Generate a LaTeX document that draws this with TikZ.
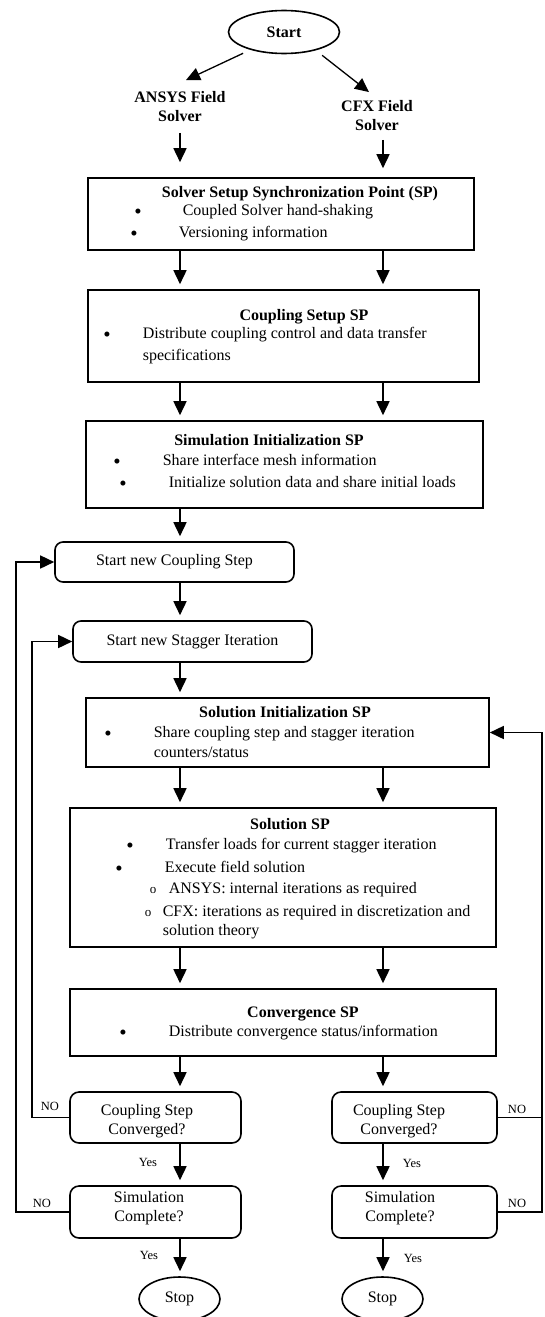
\documentclass[tikz,border=0pt]{standalone}
\usepackage{fontspec}
\setmainfont{Liberation Serif}
\usetikzlibrary{shapes.geometric,arrows.meta}

\begin{document}
\begin{tikzpicture}[x=1pt,y=-1pt,>={Triangle[length=14pt,width=13pt]},line width=1.6pt,
  font=\fontsize{16}{18.5}\selectfont,
  spbox/.style={draw,inner sep=0pt},
  stepbox/.style={draw,rounded corners=8pt,inner sep=0pt},
  term/.style={draw,ellipse,inner sep=0pt},
  txt/.style={inner sep=0pt,anchor=base west},
  dot/.style={inner sep=0pt,anchor=base,yshift=-2pt,font=\fontsize{21}{21}\selectfont},
  sub/.style={inner sep=0pt,anchor=base,font=\fontsize{13}{13}\selectfont},
  hd/.style={inner sep=0pt,anchor=base,font=\fontsize{16}{19}\selectfont\bfseries},
  lbl/.style={inner sep=0pt,font=\fontsize{12.5}{14}\selectfont},
  link/.style={->,shorten >=5pt}]
\useasboundingbox (0,0) rectangle (544,1317);

\coordinate (colL) at (180,0);
\coordinate (colR) at (383,0);
\coordinate (lin)  at (32,0);
\coordinate (lout) at (16,0);
\coordinate (rout) at (542,0);

\node (start) at (284,32) [term,minimum width=111pt,minimum height=43pt,font=\fontsize{16}{19}\selectfont\bfseries] {Start};
\node (ansys) at (180,107) [hd,anchor=center,align=center] {ANSYS Field\\Solver};
\node   (cfx) at (377,116) [hd,anchor=center,align=center] {CFX Field\\Solver};

\node   (sync) at (281,214)   [spbox,minimum width=386pt,minimum height=72pt] {};
\node (sync t) at (300,197)   [hd] {Solver Setup Synchronization Point (SP)};
\node (sync a) at (138,216)   [dot] {\textbullet};
\node (sync b) at (182,215)   [txt] {Coupled Solver hand-shaking};
\node (sync c) at (134,238)   [dot] {\textbullet};
\node (sync d) at (178,237)   [txt] {Versioning information};

\node   (cset) at (283.5,336) [spbox,minimum width=391pt,minimum height=92pt] {};
\node (cset t) at (304,320)   [hd] {Coupling Setup SP};
\node (cset a) at (107,339)   [dot] {\textbullet};
\node (cset b) at (142,338)   [txt] {Distribute coupling control and data transfer};
\node (cset c) at (142,360)   [txt] {specifications};

\node   (sini) at (284.5,464.5) [spbox,minimum width=397pt,minimum height=87pt] {};
\node (sini t) at (269,445)   [hd] {Simulation Initialization SP};
\node (sini a) at (117,466)   [dot] {\textbullet};
\node (sini b) at (162,465)   [txt] {Share interface mesh information};
\node (sini c) at (123,488)   [dot] {\textbullet};
\node (sini d) at (168,487)   [txt] {Initialize solution data and share initial loads};

\node (cstep) at (174.5,562) [stepbox,minimum width=239pt,minimum height=40pt] {Start new Coupling Step};
\node  (stag) at (192.5,641.5) [stepbox,minimum width=239pt,minimum height=41pt] {Start new Stagger Iteration};

\node   (soli) at (287.5,732.5) [spbox,minimum width=403pt,minimum height=69pt] {};
\node (soli t) at (285,717)   [hd] {Solution Initialization SP};
\node (soli a) at (108,738)   [dot] {\textbullet};
\node (soli b) at (153,737)   [txt] {Share coupling step and stagger iteration};
\node (soli c) at (153,757)   [txt] {counters/status};

\node   (solu) at (283,877.5) [spbox,minimum width=426pt,minimum height=139pt] {};
\node (solu t) at (290,829)   [hd] {Solution SP};
\node (solu a) at (130,850)   [dot] {\textbullet};
\node (solu b) at (165,849)   [txt] {Transfer loads for current stagger iteration};
\node (solu c) at (119,873)   [dot] {\textbullet};
\node (solu d) at (164,872)   [txt] {Execute field solution};
\node (solu e) at (153,893)   [sub] {o};
\node (solu f) at (168,893)   [txt] {ANSYS: internal iterations as required};
\node (solu g) at (148,916)   [sub] {o};
\node (solu h) at (162,916)   [txt] {CFX: iterations as required in discretization and};
\node (solu i) at (162,935)   [txt] {solution theory};

\node   (conv) at (283,1022.5) [spbox,minimum width=426pt,minimum height=67pt] {};
\node (conv t) at (303,1017)  [hd] {Convergence SP};
\node (conv a) at (123,1037)  [dot] {\textbullet};
\node (conv b) at (168,1036)  [txt] {Distribute convergence status/information};

\node   (cscl) at (155.5,1117.5) [stepbox,rounded corners=9pt,minimum width=171pt,minimum height=51pt] {};
\node (cscl t) at (147,1121)  [align=center,inner sep=0pt] {Coupling Step\\Converged?};
\node    (scl) at (155.5,1212) [stepbox,rounded corners=9pt,minimum width=171pt,minimum height=52pt] {};
\node  (scl t) at (149,1208)  [align=center,inner sep=0pt] {Simulation\\Complete?};
\node   (cscr) at (414.5,1117.5) [stepbox,rounded corners=9pt,minimum width=165pt,minimum height=51pt] {};
\node (cscr t) at (399,1121)  [align=center,inner sep=0pt] {Coupling Step\\Converged?};
\node    (scr) at (414.5,1212) [stepbox,rounded corners=9pt,minimum width=165pt,minimum height=52pt] {};
\node  (scr t) at (400,1208)  [align=center,inner sep=0pt] {Simulation\\Complete?};

\node (stopl) at (179.5,1299) [term,minimum width=81pt,minimum height=44pt] {Stop};
\node (stopr) at (382.5,1299) [term,minimum width=81pt,minimum height=44pt] {Stop};

\node (no1) at (50,1106)  [lbl] {NO};
\node (no2) at (42,1203)  [lbl] {NO};
\node (no3) at (517,1109) [lbl] {NO};
\node (no4) at (517,1203) [lbl] {NO};
\node (yes1) at (148,1162) [lbl] {Yes};
\node (yes2) at (149,1255) [lbl] {Yes};
\node (yes3) at (412,1163) [lbl] {Yes};
\node (yes4) at (413,1258) [lbl] {Yes};

\draw [->,line width=1.3pt,shorten <=8pt] (start.208) -- ([xshift=6pt,yshift=11pt]ansys.north);
\draw [->,line width=1.3pt,shorten <=8pt] (start.330) -- ([xshift=-8pt,yshift=8pt]cfx.north);
\draw [->,shorten <=10pt,shorten >=15pt] (ansys.south) -- (sync.north -| ansys);
\draw [->,shorten <=8pt,shorten >=9pt] (cfx.south -| colR) -- (sync.north -| colR);
\draw [link] (sync.south -| colL) -- (cset.north -| colL);
\draw [link] (sync.south -| colR) -- (cset.north -| colR);
\draw [link] (cset.south -| colL) -- (sini.north -| colL);
\draw [link] (cset.south -| colR) -- (sini.north -| colR);
\draw [link] (sini.south -| colL) -- (cstep.north -| colL);
\draw [link] (cstep.south -| colL) -- (stag.north -| colL);
\draw [link] (stag.south -| colL) -- (soli.north -| colL);
\draw [link] (soli.south -| colL) -- (solu.north -| colL);
\draw [link] (soli.south -| colR) -- (solu.north -| colR);
\draw [link] (solu.south -| colL) -- (conv.north -| colL);
\draw [link] (solu.south -| colR) -- (conv.north -| colR);
\draw [link] (conv.south -| colL) -- (cscl.north -| colL);
\draw [link] (conv.south -| colR) -- (cscr.north -| colR);
\draw [link] (cscl.south -| colL) -- (scl.north -| colL);
\draw [link] (cscr.south -| colR) -- (scr.north -| colR);
\draw [link] (scl.south -| colL) -- (stopl.north -| colL);
\draw [link] (scr.south -| colR) -- (stopr.north -| colR);
\draw [->] (cscl.west) -- (cscl.west -| lin) |- (stag.west);
\draw [->] (scl.west) -- (scl.west -| lout) |- (cstep.west);
\draw [->] (cscr.east) -- (cscr.east -| rout) |- (soli.east);
\draw (scr.east) -- (scr.east -| rout) -- (cscr.east -| rout);
\end{tikzpicture}
\end{document}
